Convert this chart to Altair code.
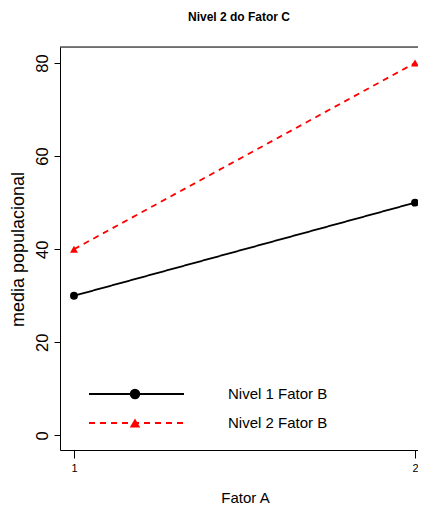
import altair as alt
import pandas as pd

fator_a = [1, 2, 1, 2]
media = [30, 50, 40, 80]
fator_b = ["Nivel 1 Fator B", "Nivel 1 Fator B", "Nivel 2 Fator B", "Nivel 2 Fator B"]
niveis = ["Nivel 1 Fator B", "Nivel 2 Fator B"]
cores = ["#000000", "#ff0000"]
y_ticks = [0, 20, 40, 60, 80]
x_ticks = [1, 2]

df = pd.DataFrame({"A": fator_a, "media": media, "B": fator_b, "Bp": fator_b})
FONT = "Liberation Sans"

xs = alt.Scale(domain=[0.959, 2.0088], nice=False, zero=False)
ys = alt.Scale(domain=[-3.13, 83.44], nice=False, zero=False)

x_axis = alt.Axis(values=x_ticks, format="d", title="Fator A", grid=False,
                  tickSize=8, tickColor="#000", domainColor="#000", labelFontSize=11,
                  labelPadding=4, labelFont=FONT, labelColor="#000",
                  titleFont=FONT, titleFontSize=15, titleFontWeight="normal",
                  titleColor="#000", titleX=185, titleY=52, titleBaseline="alphabetic")
y_axis = alt.Axis(values=y_ticks, title="media populacional", grid=False,
                  tickSize=6, tickColor="#000", domainColor="#000", labelFontSize=16.5,
                  labelAngle=270, labelAlign="center", labelBaseline="alphabetic",
                  labelPadding=7, labelFont=FONT, labelColor="#000",
                  titleFont=FONT, titleFontSize=18, titleFontWeight="normal",
                  titleColor="#000", titleAngle=270, titleX=-37, titleY=202,
                  titleAlign="center", titleBaseline="alphabetic")

line_legend = dict(orient="none", legendX=28, legendY=339, title=None,
                   symbolType="stroke", symbolSize=9025, symbolStrokeWidth=1.8,
                   labelFontSize=15, labelFont=FONT, labelColor="#000", labelOffset=43,
                   clipHeight=16, rowPadding=13, padding=0)
point_legend = dict(orient="none", legendX=67.5, legendY=339, title=None,
                    symbolSize=110, labelFontSize=15, labelExpr="''", labelFont=FONT,
                    clipHeight=16, rowPadding=13, padding=0, zindex=2)

base = alt.Chart(df)

linhas = base.mark_line(strokeWidth=1.8).encode(
    x=alt.X("A:Q", scale=xs, axis=x_axis),
    y=alt.Y("media:Q", scale=ys, axis=y_axis),
    color=alt.Color("B:N", scale=alt.Scale(domain=niveis, range=cores),
                    legend=alt.Legend(**line_legend)),
    strokeDash=alt.StrokeDash("B:N", scale=alt.Scale(domain=niveis, range=[[1, 0], [6, 5]]),
                              legend=alt.Legend(**line_legend)),
)

pontos = base.mark_point(filled=True, size=62, opacity=1).encode(
    x=alt.X("A:Q", scale=xs),
    y=alt.Y("media:Q", scale=ys),
    color=alt.Color("Bp:N", scale=alt.Scale(domain=niveis, range=cores),
                    legend=alt.Legend(**point_legend)),
    shape=alt.Shape("Bp:N", scale=alt.Scale(domain=niveis, range=["circle", "triangle-up"]),
                    legend=alt.Legend(**point_legend)),
)

topo = alt.Chart(pd.DataFrame({"t": [0]})).mark_rule(color="#000", strokeWidth=1).encode(
    y=alt.value(0)
)

chart = alt.layer(topo, linhas, pontos).resolve_scale(
    color="independent", shape="independent", strokeDash="independent"
).resolve_legend(
    color="independent", shape="independent", strokeDash="independent"
).properties(
    width=358, height=403,
    title=alt.TitleParams("Nivel 2 do Fator C", font=FONT, fontSize=12, fontWeight="bold",
                          color="#000", anchor="middle", baseline="alphabetic", offset=14),
    autosize=alt.AutoSizeParams(type="none"),
    padding={"left": 52, "top": 39, "right": 0, "bottom": 57},
).configure_view(stroke=None).configure(background="white")

chart.save("out.html", embed_options={"renderer": "svg", "actions": False})
